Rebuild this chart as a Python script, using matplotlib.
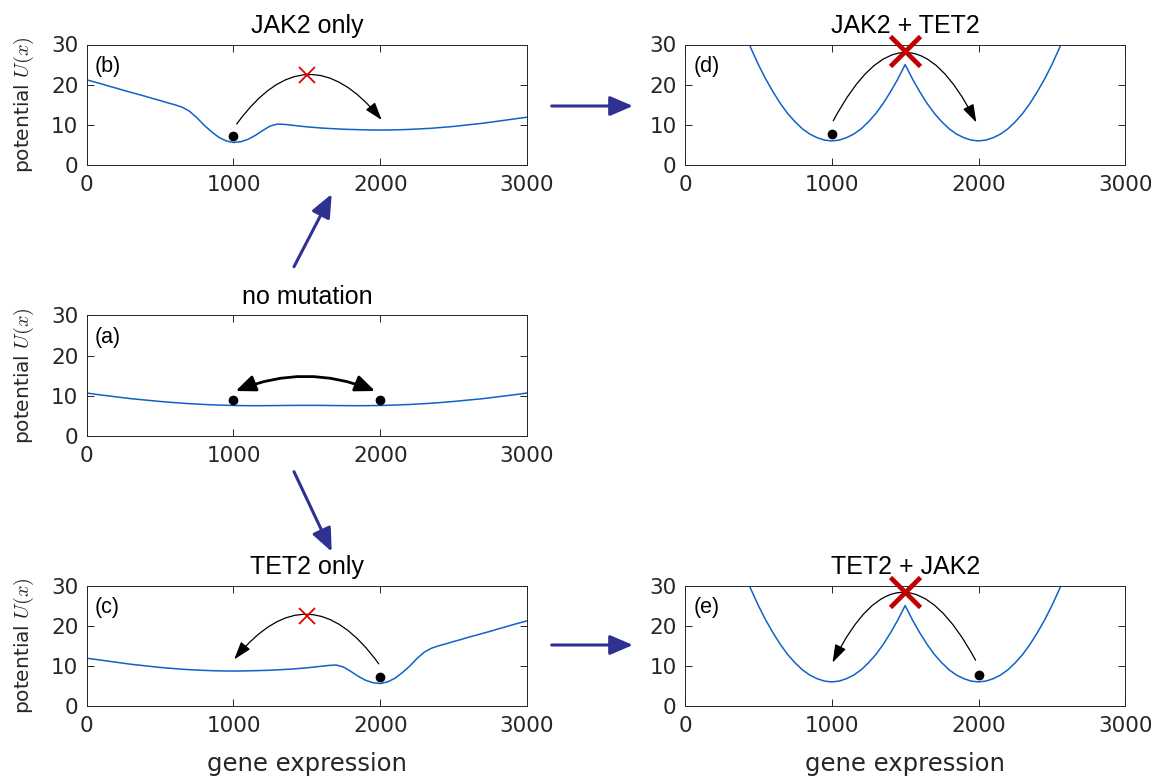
import numpy as np
import matplotlib.pyplot as plt
from matplotlib.patches import FancyArrowPatch

plt.rcParams['mathtext.fontset'] = 'cm'

x_fine = np.arange(0, 3001, 50)
u_jak2 = [21.2, 20.7, 20.2, 19.65, 19.15, 18.6, 18.1, 17.6, 17.1, 16.55,
          16.05, 15.5, 15.0, 14.4, 13.4, 11.8, 9.9, 8.3, 6.9, 6.0,
          5.6, 5.8, 6.4, 7.4, 8.6, 9.7, 10.2, 10.1, 9.9, 9.7,
          9.5, 9.35, 9.2, 9.1, 9.0, 8.9, 8.85, 8.8, 8.75, 8.72,
          8.7, 8.72, 8.75, 8.8, 8.87, 8.95, 9.05, 9.15, 9.3, 9.45,
          9.6, 9.8, 10.0, 10.2, 10.4, 10.65, 10.9, 11.15, 11.4, 11.65,
          11.9]
u_tet2 = [11.9, 11.65, 11.4, 11.15, 10.9, 10.65, 10.4, 10.2, 10.0, 9.8,
          9.6, 9.45, 9.3, 9.15, 9.05, 8.95, 8.87, 8.8, 8.75, 8.72,
          8.7, 8.72, 8.75, 8.8, 8.85, 8.9, 9.0, 9.1, 9.2, 9.35,
          9.5, 9.7, 9.9, 10.1, 10.2, 9.7, 8.6, 7.4, 6.4, 5.8,
          5.6, 6.0, 6.9, 8.3, 9.9, 11.8, 13.4, 14.4, 15.0, 15.5,
          16.05, 16.55, 17.1, 17.6, 18.1, 18.6, 19.15, 19.65, 20.2, 20.7,
          21.2]
x_none = np.arange(0, 3001, 100)
u_none = [10.7, 10.2, 9.75, 9.3, 8.95, 8.6, 8.3, 8.05, 7.85, 7.7,
          7.6, 7.55, 7.55, 7.58, 7.62, 7.63, 7.62, 7.58, 7.55, 7.55,
          7.6, 7.7, 7.85, 8.05, 8.3, 8.6, 8.95, 9.3, 9.75, 10.2,
          10.7]
x_both = np.arange(400, 2601, 50)
u_both = [33.4, 29.0, 25.0, 21.4, 18.2, 15.3, 12.8, 10.75, 9.0, 7.7, 6.8, 6.2, 6.0,
          6.2, 6.8, 7.7, 9.0, 10.75, 12.8, 15.3, 18.2, 21.4, 25.0,
          21.4, 18.2, 15.3, 12.8, 10.75, 9.0, 7.7, 6.8, 6.2, 6.0,
          6.2, 6.8, 7.7, 9.0, 10.75, 12.8, 15.3, 18.2, 21.4, 25.0, 29.0, 33.4]

xticks = [0, 1000, 2000, 3000]
yticks = [0, 10, 20, 30]

# cells sitting in each landscape
ball_a = ([1000, 2000], [9.0, 9.0])
ball_b = ([1000], [7.1])
ball_c = ([2000], [7.2])
ball_d = ([1000], [7.6])
ball_e = ([2000], [7.6])

# transitions: start, end, curvature
arc_a = ((1015, 11.2), (1965, 11.2), -0.2)
arc_b = ((1022, 10.2), (2010, 11.2), -0.65)
arc_c = ((1990, 10.5), (1005, 11.6), 0.65)
arc_d = ((1010, 11.0), (1985, 10.6), -0.96)
arc_e = ((1980, 11.4), (1005, 10.8), 0.96)

# blocked crossings
cross_small = (1500, 22.5)
cross_big = (1500, 28.4)

LINE = '#0F62C8'
GREY = '#262626'
NAVY = '#2E3192'

fig = plt.figure(figsize=(11.51, 7.79), dpi=100)

W, H = 1151.0, 779.0
left1, left2 = 86.7 / W, 685 / W
aw, ah = 440.3 / W, 120.5 / H
rows = [1 - 165 / H, 1 - 436 / H, 1 - 706 / H]


def make_ax(l, b, title, tag, ylab=True, xlab=False):
    ax = fig.add_axes([l, b, aw, ah])
    ax.set_xlim(0, 3000)
    ax.set_ylim(0, 30)
    ax.set_xticks(xticks)
    ax.set_yticks(yticks)
    ax.tick_params(direction='in', length=5, width=0.7, top=True, right=True,
                   labelsize=15.5, colors=GREY)
    ax.tick_params(axis='x', pad=7)
    ax.tick_params(axis='y', pad=6)
    for s in ax.spines.values():
        s.set_linewidth(0.7)
        s.set_color(GREY)
    ax.set_title(title, fontsize=18, family='Liberation Sans', pad=8.6)
    ax.text(0.019, 0.815, tag, transform=ax.transAxes, fontsize=15.5,
            family='Liberation Sans', va='center')
    if ylab:
        ax.set_ylabel('potential $U(x)$', fontsize=14.5, color=GREY, labelpad=11)
    if xlab:
        ax.set_xlabel('gene expression', fontsize=17.5, color=GREY, labelpad=12)
    return ax


def arc(ax, spec, style='-|>,head_length=0.55,head_width=0.18', lw=0.9):
    start, end, rad = spec
    ax.annotate('', xy=end, xytext=start,
                arrowprops=dict(arrowstyle=style, connectionstyle='arc3,rad=%g' % rad,
                                color='k', lw=lw, mutation_scale=20,
                                shrinkA=0, shrinkB=0))


ax_b = make_ax(left1, rows[0], 'JAK2 only', '(b)')
ax_d = make_ax(left2, rows[0], 'JAK2 + TET2', '(d)', ylab=False)
ax_a = make_ax(left1, rows[1], 'no mutation', '(a)')
ax_c = make_ax(left1, rows[2], 'TET2 only', '(c)', xlab=True)
ax_e = make_ax(left2, rows[2], 'TET2 + JAK2', '(e)', ylab=False, xlab=True)

ax_a.plot(x_none, u_none, color=LINE, lw=1.1)
ax_b.plot(x_fine, u_jak2, color=LINE, lw=1.1)
ax_c.plot(x_fine, u_tet2, color=LINE, lw=1.1)
ax_d.plot(x_both, u_both, color=LINE, lw=1.1)
ax_e.plot(x_both, u_both, color=LINE, lw=1.1)

for ax, ball in [(ax_a, ball_a), (ax_b, ball_b), (ax_c, ball_c), (ax_d, ball_d), (ax_e, ball_e)]:
    ax.plot(ball[0], ball[1], 'o', color='k', ms=6)

arc(ax_a, arc_a, style='<|-|>,head_length=0.6,head_width=0.25', lw=2.0)
arc(ax_b, arc_b)
arc(ax_c, arc_c)
arc(ax_d, arc_d)
arc(ax_e, arc_e)

for ax in (ax_b, ax_c):
    ax.plot(*cross_small, marker='x', color='#E00000', ms=12, mew=1.3, zorder=5)
for ax in (ax_d, ax_e):
    ax.plot(*cross_big, marker='x', color='#C00000', ms=22, mew=3.4,
            zorder=6, clip_on=False)

# big arrows between panels
big = [((294, 266.7), (331.7, 194)),
       ((294, 471.7), (331.7, 551.7)),
       ((551.7, 106), (633, 106)),
       ((551.7, 645), (633, 645))]
for a, b in big:
    p = FancyArrowPatch((a[0] / W, 1 - a[1] / H), (b[0] / W, 1 - b[1] / H),
                        transform=fig.transFigure,
                        arrowstyle='-|>,head_length=0.7,head_width=0.3',
                        mutation_scale=20, lw=2.2, color=NAVY,
                        shrinkA=0, shrinkB=0)
    fig.add_artist(p)

fig.savefig('out.png', dpi=100, facecolor='white')
